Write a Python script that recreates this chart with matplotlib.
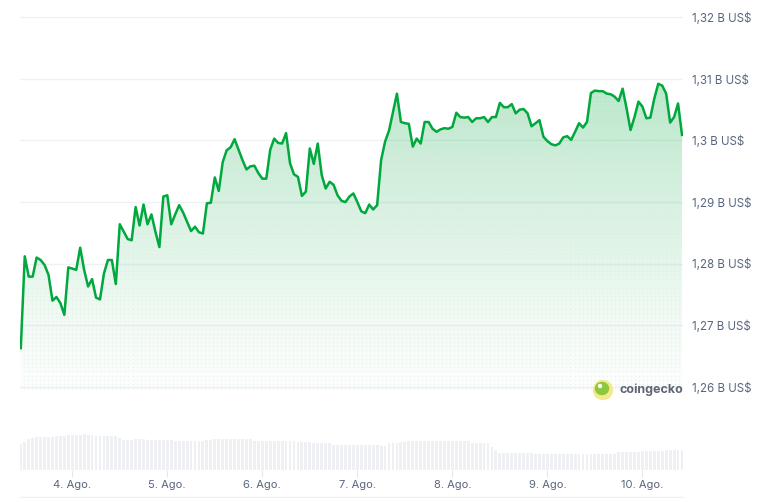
import numpy as np
import pandas as pd
import matplotlib
matplotlib.use("Agg")
import matplotlib.pyplot as plt
import matplotlib.dates as mdates
from matplotlib.patches import Ellipse
from matplotlib.lines import Line2D

plt.rcParams['font.family'] = ['Inter', 'DejaVu Sans']

# hourly market cap, billions of US$ (3 Aug 11:00 -> 10 Aug 10:00)
price_b = [
    1.2663, 1.2812, 1.2779, 1.2779, 1.2810, 1.2806, 1.2798, 1.2782, 1.2740, 1.2746,
    1.2736, 1.2717, 1.2794, 1.2792, 1.2790, 1.2826, 1.2790, 1.2763, 1.2775, 1.2745,
    1.2742, 1.2784, 1.2806, 1.2806, 1.2767, 1.2864, 1.2852, 1.2840, 1.2838, 1.2892,
    1.2862, 1.2896, 1.2864, 1.2880, 1.2852, 1.2827, 1.2909, 1.2911, 1.2864, 1.2880,
    1.2895, 1.2883, 1.2868, 1.2853, 1.2860, 1.2851, 1.2849, 1.2898, 1.2899, 1.2940,
    1.2918, 1.2965, 1.2984, 1.2989, 1.3002, 1.2985, 1.2968, 1.2953, 1.2958, 1.2959,
    1.2947, 1.2938, 1.2938, 1.2985, 1.3003, 1.2996, 1.2995, 1.3012, 1.2963, 1.2945,
    1.2941, 1.2910, 1.2917, 1.2987, 1.2962, 1.2995, 1.2944, 1.2922, 1.2933, 1.2928,
    1.2911, 1.2902, 1.2900, 1.2909, 1.2914, 1.2900, 1.2885, 1.2882, 1.2896, 1.2888,
    1.2895, 1.2968, 1.2998, 1.3016, 1.3046, 1.3076, 1.3030, 1.3028, 1.3027, 1.2990,
    1.3003, 1.2995, 1.3030, 1.3030, 1.3019, 1.3014, 1.3018, 1.3020, 1.3019, 1.3022,
    1.3045, 1.3038, 1.3037, 1.3038, 1.3030, 1.3036, 1.3036, 1.3038, 1.3030, 1.3038,
    1.3038, 1.3061, 1.3054, 1.3054, 1.3059, 1.3044, 1.3050, 1.3051, 1.3044, 1.3023,
    1.3028, 1.3033, 1.3006, 1.2999, 1.2994, 1.2992, 1.2995, 1.3005, 1.3007, 1.3001,
    1.3014, 1.3028, 1.3021, 1.3030, 1.3077, 1.3081, 1.3080, 1.3080, 1.3076, 1.3075,
    1.3071, 1.3064, 1.3084, 1.3052, 1.3017, 1.3038, 1.3063, 1.3055, 1.3036, 1.3037,
    1.3068, 1.3092, 1.3089, 1.3076, 1.3029, 1.3038, 1.3060, 1.3009,
]

# hourly volume (relative units)
volume = (
    [26, 28, 31, 32] + [33] * 5 + [34] * 3 + [35] * 4 + [36] + [35] * 2 + [34] * 6
    + [32] + [30] * 3 + [31] * 3 + [30] * 7 + [29] * 8 + [30] * 2 + [31] * 10
    + [29] * 11 + [28] * 4 + [27] * 5 + [25] * 12 + [24] * 2 + [27] * 3 + [28] * 2
    + [29] * 16 + [27] * 5 + [23, 20] + [17] * 9 + [16] * 21 + [18] * 6 + [19] * 6
    + [20] * 5
)

start = "2024-08-03 11:00"
day_ticks = pd.date_range("2024-08-04", "2024-08-10", freq="D")
day_labels = ["4. Ago.", "5. Ago.", "6. Ago.", "7. Ago.", "8. Ago.", "9. Ago.", "10. Ago."]
y_ticks = [1.26, 1.27, 1.28, 1.29, 1.30, 1.31, 1.32]
y_labels = ["1,26 B US$", "1,27 B US$", "1,28 B US$", "1,29 B US$",
            "1,3 B US$", "1,31 B US$", "1,32 B US$"]

green = '#00a83e'
label_col = '#58667e'
grid_col = '#eff2f5'

times = pd.date_range(start, periods=len(price_b), freq="h")
tnum = mdates.date2num(times)
xlim = (tnum[0] - 0.2 / 24, tnum[-1] + 0.25 / 24)
ybot, ytop = 1.2595, 1.3215

W, H = 759, 498
fig = plt.figure(figsize=(W / 100, H / 100), dpi=100)
ax = fig.add_axes([20 / W, 1 - 390 / H, 663 / W, 382 / H])

# gradient fill under the line
grad = np.linspace(0, 1, 256)
rgba = np.zeros((256, 1, 4))
rgba[..., :3] = matplotlib.colors.to_rgb(green)
rgba[:, 0, 3] = 0.015 + 0.27 * grad ** 1.2
im = ax.imshow(rgba, extent=[xlim[0], xlim[1], ybot, 1.311], origin='lower',
               aspect='auto', zorder=1, interpolation='bilinear')
poly = ax.fill_between(tnum, price_b, ybot, color='none', lw=0)
clip = poly.get_paths()[0]
im.set_clip_path(clip, transform=ax.transData)

# dotted texture inside the fill
gx = np.linspace(xlim[0], xlim[1], 166)
gy = np.arange(ybot + 0.0003, 1.312, 0.00068)
mx, my = np.meshgrid(gx, gy)
pts = np.column_stack([mx.ravel(), my.ravel()])
inside = clip.contains_points(pts)
ax.scatter(pts[inside, 0], pts[inside, 1], s=0.8, color='#dfe9e3', lw=0, zorder=1.5, alpha=0.65)

ax.plot(tnum, price_b, color=green, lw=1.8, zorder=3, solid_joinstyle='round')

ax.set_xlim(*xlim)
ax.set_ylim(ybot, ytop)
ax.set_yticks(y_ticks)
ax.set_yticklabels(y_labels)
ax.yaxis.tick_right()
ax.tick_params(axis='y', length=0, pad=6.5, labelcolor=label_col, labelsize=8.3)
ax.set_xticks([])
ax.grid(axis='y', color=grid_col, lw=1)
ax.set_axisbelow(True)
for s in ax.spines.values():
    s.set_visible(False)

# volume panel
vax = fig.add_axes([20 / W, 1 - 470 / H, 663 / W, 45 / H])
vax.bar(tnum, volume, width=0.72 / 24, color='#eef0f3', lw=0)
vax.set_xlim(*xlim)
vax.set_ylim(0, 45)
vax.set_yticks([])
vax.set_xticks(mdates.date2num(day_ticks))
vax.set_xticklabels(day_labels)
vax.tick_params(axis='x', length=5, width=0.8, color='#e3e6ea', labelcolor=label_col,
                labelsize=8, pad=2)
for s in vax.spines.values():
    s.set_visible(False)

fig.add_artist(Line2D([20 / W, 683 / W], [1 - 497 / H] * 2, color='#eef0f3', lw=1))

# coingecko watermark
cx, cy = 603 / W, 1 - 390 / H
fig.add_artist(Ellipse((cx, cy), 19 / W, 19 / H, color='#f5e98f', transform=fig.transFigure))
fig.add_artist(Ellipse((cx - 1 / W, cy + 1.5 / H), 13 / W, 12 / H, color='#8dc63f',
                       transform=fig.transFigure))
fig.add_artist(Ellipse((cx - 3 / W, cy + 4 / H), 3 / W, 3 / H, color='white',
                       transform=fig.transFigure))
fig.text(620 / W, cy, "coingecko", fontsize=9, fontweight='bold', color='#5f6672',
         va='center', ha='left')

fig.savefig("out.png", dpi=100)
